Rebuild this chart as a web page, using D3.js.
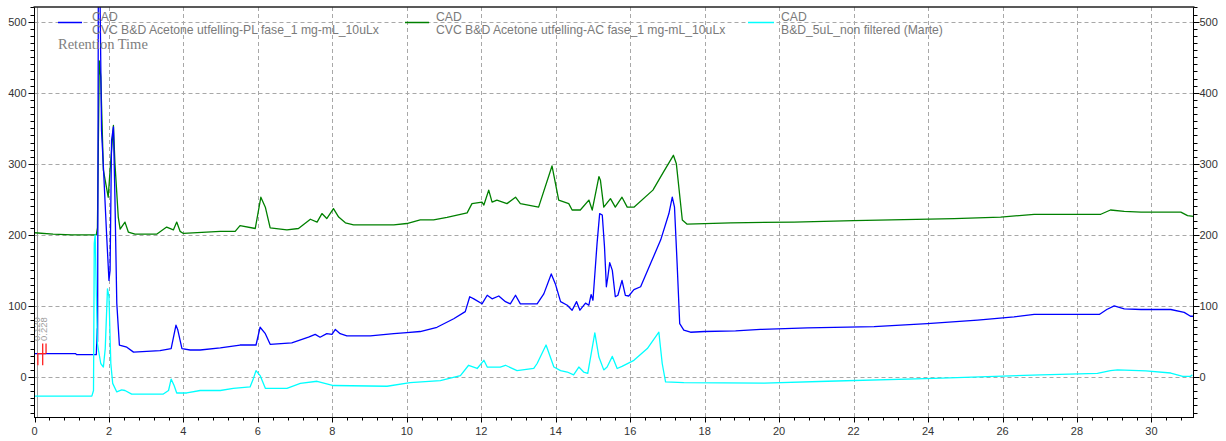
<!DOCTYPE html>
<html><head><meta charset="utf-8">
<script src="https://cdn.jsdelivr.net/npm/d3@7"></script>
<style>body{margin:0;background:#fff}svg{display:block}</style>
</head><body>
<svg id="c" width="1226" height="441"></svg>
<script>
// ---- data (retention time in min, detector response) ----
const plSeries = [[0,33],[0.5,33],[1.1,33],[1.13,31.5],[1.66,31.5],[1.685,68],[1.695,50],[1.715,560],[1.755,560],[1.80,347],[1.855,291],[1.94,197],[2.0,136],[2.03,150],[2.07,333],[2.12,352],[2.16,253],[2.21,104],[2.28,45],[2.48,42],[2.66,35],[3.37,37],[3.67,40],[3.8,73],[3.85,66],[3.96,40],[4.18,38],[4.45,38],[4.99,41],[5.52,45],[5.95,45],[6.06,70],[6.2,61],[6.33,46],[6.91,48],[7.36,56],[7.54,60],[7.67,56],[7.85,61],[7.99,60],[8.08,67],[8.21,61],[8.39,58],[9.02,58],[9.65,61],[10.0,62.5],[10.36,64],[10.81,70],[11.26,82],[11.57,92],[11.69,113],[11.8,110],[12.02,103],[12.16,115],[12.29,110],[12.47,114],[12.65,106],[12.78,103],[12.92,115],[13.05,103],[13.5,103],[13.68,117],[13.88,145],[13.99,131],[14.13,106],[14.31,101],[14.44,94],[14.56,106],[14.65,94],[14.8,104],[14.89,101],[14.95,116],[15.0,108],[15.11,188],[15.18,230],[15.25,228],[15.31,183],[15.36,127],[15.4,141],[15.45,161],[15.52,150],[15.6,113],[15.67,115],[15.78,136],[15.87,115],[15.96,114],[16.1,123],[16.28,127],[16.55,160],[16.82,193],[17.04,230],[17.13,253],[17.19,239],[17.26,160],[17.33,75],[17.44,66],[17.62,63],[18.0,64],[18.83,65],[19.5,67],[20.76,69],[22.55,71],[23.98,75],[25.33,80],[26.31,84.5],[26.85,88],[28.6,88],[28.8,95],[29.0,100],[29.27,96],[29.72,95],[30.52,95],[30.88,91],[31.05,85.5],[31.14,85.5]];

const acSeries = [[0,203],[0.5,201],[1.0,200],[1.66,200],[1.69,210],[1.74,445],[1.78,422],[1.85,291],[1.98,253],[2.03,291],[2.12,354],[2.16,301],[2.25,225],[2.30,208],[2.43,218],[2.52,204],[2.70,201],[3.28,201],[3.55,211],[3.73,207],[3.82,218],[3.91,205],[4.0,202],[4.99,205],[5.39,205],[5.52,213],[5.93,209],[6.08,253],[6.2,239],[6.33,210],[6.78,207],[7.09,209],[7.41,222],[7.59,218],[7.72,230],[7.85,223],[8.03,237],[8.17,225],[8.35,217],[8.57,214],[9.65,214],[10.0,216],[10.36,221],[10.72,221],[11.08,224.5],[11.62,231],[11.75,244],[12.02,246],[12.07,242],[12.2,263],[12.29,246],[12.42,249],[12.69,244],[12.92,253],[13.05,244],[13.54,239],[13.9,297],[14.08,249],[14.35,244],[14.44,235],[14.66,235],[14.89,249],[14.98,235],[15.16,282],[15.2,277],[15.29,239],[15.47,251],[15.6,239],[15.78,253],[15.92,239],[16.1,239],[16.61,263],[16.9,289],[17.16,312],[17.24,300],[17.4,221],[17.53,215],[18.7,217],[20.4,218],[22.0,220],[24.7,223],[25.95,225],[26.85,229],[28.64,229],[28.9,235],[29.27,233],[29.72,232],[30.79,232],[30.97,227],[31.13,226]];

const bdSeries = [[0,-27],[1.0,-27],[1.54,-27],[1.585,-19],[1.605,188],[1.63,200],[1.66,120],[1.69,47],[1.72,37],[1.78,19],[1.85,14],[1.90,40],[1.96,124],[2.0,113],[2.05,19],[2.1,-9],[2.21,-21],[2.34,-18],[2.43,-19],[2.61,-24],[3.46,-24],[3.6,-19],[3.67,-3],[3.75,-12],[3.82,-22.5],[4.09,-22.5],[4.45,-19],[4.99,-19],[5.34,-16],[5.79,-14],[5.88,-2],[5.95,9],[6.06,2],[6.2,-16],[6.78,-16],[7.14,-9],[7.59,-6],[8.03,-12],[9.47,-13],[10.09,-8],[10.9,-5],[11.44,2],[11.66,16.5],[11.89,12],[12.07,23.5],[12.16,14],[12.51,14],[12.65,16.5],[12.96,9],[13.41,12],[13.5,19],[13.74,45],[13.95,14],[14.13,9],[14.31,7],[14.48,3],[14.62,14],[14.75,7],[14.86,5],[15.05,62],[15.16,28],[15.29,10],[15.38,14],[15.52,29],[15.65,12],[15.78,15],[16.1,23.5],[16.46,40],[16.77,63],[16.86,19],[16.95,-7],[17.44,-8],[19.6,-8.5],[21.3,-6],[24.16,-2],[27.03,3],[28.55,5],[28.9,9],[29.09,10],[29.85,8.5],[30.52,5.6],[30.84,1],[31.05,1],[31.1,3]];

const detectorName = "CAD";
const seriesNames = ["CVC B&D Acetone utfelling-PL fase_1 mg-mL_10uLx","CVC B&D Acetone utfelling-AC fase_1 mg-mL_10uLx","B&D_5uL_non filtered (Marte)"];
const seriesColors = ["#0000ff","#008000","#00ffff"];
const xTickValues = d3.range(0, 31, 2);
const yTickValues = [0,100,200,300,400,500];
const axisTitle = "Retention Time";
const markerTimes = [0.09, 0.22, 0.31];
const markerLabels = ["0.120","0.228"];
const xDomain = [0, 31.13];
const yDomain = [-57, 520.7];

// ---- layout ----
const L=34.5, R=1193.5, T=7, B=417.5;
const svg=d3.select("#c");
const x=d3.scaleLinear().domain(xDomain).range([L,R]);
const y=d3.scaleLinear().domain(yDomain).range([B,T]);
const px=v=>Math.round(v)+0.5;

svg.append("defs").append("clipPath").attr("id","clip")
  .append("rect").attr("x",L).attr("y",T).attr("width",R-L).attr("height",B-T);

// grid
const grid=svg.append("g").attr("stroke","#a8a8a8").attr("stroke-dasharray","4,3").attr("stroke-width",1);
xTickValues.filter(d=>d>0).forEach(d=>grid.append("line").attr("x1",px(x(d))).attr("x2",px(x(d))).attr("y1",T).attr("y2",B));
yTickValues.forEach(d=>grid.append("line").attr("x1",L).attr("x2",R).attr("y1",px(y(d))).attr("y2",px(y(d))));

// start marker line
svg.append("line").attr("x1",px(x(0.06))).attr("x2",px(x(0.06))).attr("y1",T).attr("y2",B).attr("stroke","#9a9a9a");

// series
const line=d3.line().x(d=>x(d[0])).y(d=>y(d[1]));
const plot=svg.append("g").attr("clip-path","url(#clip)").attr("fill","none").attr("stroke-width",1.3).attr("stroke-linejoin","round");
plot.append("path").datum(acSeries).attr("d",line).attr("stroke",seriesColors[1]);
plot.append("path").datum(plSeries).attr("d",line).attr("stroke",seriesColors[0]);
plot.append("path").datum(bdSeries).attr("d",line).attr("stroke",seriesColors[2]);

// integration markers (red)
const base=33, hi=47, lo=16.5;
const mk=d3.path();
mk.moveTo(x(markerTimes[0]),y(lo)); mk.lineTo(x(markerTimes[0]),y(base)); mk.lineTo(x(markerTimes[2]),y(base));
mk.moveTo(x(markerTimes[1]),y(hi)); mk.lineTo(x(markerTimes[1]),y(lo));
mk.moveTo(x(markerTimes[2]),y(hi)); mk.lineTo(x(markerTimes[2]),y(base));
svg.append("path").attr("d",mk.toString()).attr("fill","none").attr("stroke","#ff2020").attr("stroke-width",1.3);
markerLabels.forEach((t,i)=>{
  const xx=x(markerTimes[i]+0.06)+(i?2:0), yy=341;
  svg.append("text").attr("transform",`translate(${xx},${yy}) rotate(-90)`)
    .attr("font-family","Liberation Sans, Arial, sans-serif").attr("font-size",9.5).attr("fill","#a0a0a0").text(t);
});

// axes
const ax=svg.append("g").attr("stroke","#000").attr("stroke-width",1);
ax.append("line").attr("x1",L).attr("x2",L).attr("y1",T).attr("y2",B+0.5);
ax.append("line").attr("x1",R).attr("x2",R).attr("y1",T).attr("y2",B+0.5);
ax.append("line").attr("x1",L).attr("x2",R).attr("y1",B).attr("y2",B);
svg.append("line").attr("x1",L-1).attr("x2",R+1).attr("y1",T).attr("y2",T).attr("stroke","#222").attr("stroke-width",1.6);

// y ticks
d3.range(-50,521,10).forEach(v=>{
  const major=v%100===0, yy=px(y(v));
  const len=major?6:4;
  ax.append("line").attr("x1",L-len).attr("x2",L).attr("y1",yy).attr("y2",yy);
  ax.append("line").attr("x1",R).attr("x2",R+len).attr("y1",yy).attr("y2",yy);
});
// x ticks
d3.range(0,31.1,0.4).forEach(v=>{
  const major=Math.abs(v/2-Math.round(v/2))<1e-6, xx=px(x(v));
  ax.append("line").attr("x1",xx).attr("x2",xx).attr("y1",B).attr("y2",B+(major?5:3));
});

const font="Liberation Sans, Arial, sans-serif";
const lab=svg.append("g").attr("font-family",font).attr("font-size",11).attr("fill","#333");
yTickValues.forEach(v=>{
  lab.append("text").attr("x",L-8).attr("y",y(v)).attr("dy","0.35em").attr("text-anchor","end").text(v);
  lab.append("text").attr("x",R+6).attr("y",y(v)).attr("dy","0.35em").attr("text-anchor","start").text(v);
});
xTickValues.forEach(v=>{
  lab.append("text").attr("x",x(v)).attr("y",435).attr("text-anchor","middle").text(v);
});

// legend
const legX=[[58,82,92],[405,429,436],[748,774,781]];
const leg=svg.append("g").attr("font-family",font).attr("font-size",12.2).attr("fill","#7a7a7a");
seriesNames.forEach((n,i)=>{
  const [a,b,t]=legX[i];
  svg.append("line").attr("x1",a).attr("x2",b).attr("y1",22.5).attr("y2",22.5).attr("stroke",seriesColors[i]).attr("stroke-width",1.5);
  leg.append("text").attr("x",t).attr("y",20.5).text(detectorName);
  leg.append("text").attr("x",t).attr("y",34).text(n);
});
svg.append("text").attr("x",58).attr("y",49).attr("font-family","Liberation Serif, Times New Roman, serif")
  .attr("font-size",14.5).attr("fill","#808080").text(axisTitle);
</script>
</body></html>
